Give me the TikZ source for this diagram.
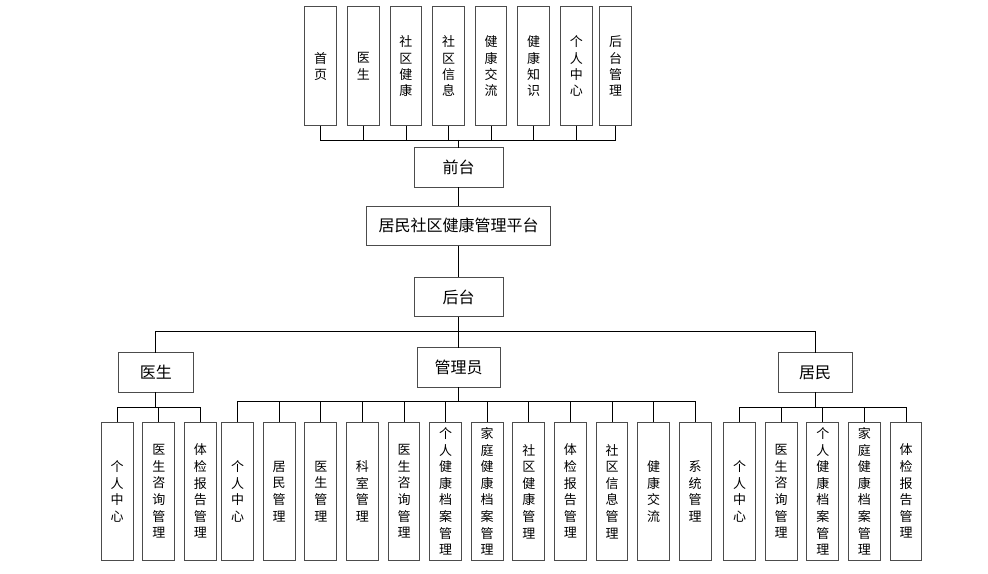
\documentclass[tikz,border=0pt]{standalone}
\usepackage{fontspec}
\setmainfont{Noto Sans CJK SC}
\usetikzlibrary{positioning,calc}

\begin{document}
\begin{tikzpicture}[
    node distance=11pt,
    tier/.style={rectangle, draw=black!70, fill=white, line width=0.9pt, inner sep=0pt, outer sep=0pt, minimum height=39.5pt, text centered, font=\fontsize{16}{19}\selectfont},
    menu/.style={rectangle, draw=black!70, fill=white, line width=0.9pt, inner sep=0pt, outer sep=0pt, minimum width=31.6pt, minimum height=118.7pt, align=center, font=\fontsize{13}{16.3}\selectfont},
    func/.style={menu, minimum width=31.8pt, minimum height=138.7pt, font=\fontsize{13}{16.6}\selectfont},
    link/.style={draw=black, line width=0.75pt}
]
    \useasboundingbox (0,0) rectangle (988pt,573pt);

    % main column
    \node[tier, minimum width=184.4pt] (platform) at (458.5pt,347.15pt) {居民社区健康管理平台};
    \node[tier, minimum width=89pt, above=18.7pt of platform] (front) {前台};
    \node[tier, minimum width=89pt, below=31.6pt of platform] (back) {后台};
    \node[tier, minimum width=83pt, below=31pt of back] (admin) {管理员};
    \node[tier, minimum width=74.3pt] (doctor) at (155.8pt,200.5pt) {医生};
    \node[tier, minimum width=74.3pt] (resident) at (815.1pt,200.5pt) {居民};

    % front pages
    \node[menu] (home) at (320.7pt,506.7pt) {首\\页};
    \node[menu, right=of home] (doc) {医\\生};
    \node[menu, right=of doc] (comm) {社\\区\\健\\康};
    \node[menu, right=of comm] (info) {社\\区\\信\\息};
    \node[menu, right=of info] (talk) {健\\康\\交\\流};
    \node[menu, right=of talk] (know) {健\\康\\知\\识};
    \node[menu, right=of know] (mine) {个\\人\\中\\心};
    \node[menu, right=7.7pt of mine] (manage) {后\\台\\管\\理};

    % doctor functions
    \node[func] (d1) at (117.2pt,81.65pt) {个\\人\\中\\心};
    \node[func, right=9.8pt of d1] (d2) {医\\生\\咨\\询\\管\\理};
    \node[func, right=9.8pt of d2] (d3) {体\\检\\报\\告\\管\\理};

    % admin functions
    \node[func, right=5.4pt of d3] (a1) {个\\人\\中\\心};
    \node[func, right=9.8pt of a1] (a2) {居\\民\\管\\理};
    \node[func, right=9.8pt of a2] (a3) {医\\生\\管\\理};
    \node[func, right=9.8pt of a3] (a4) {科\\室\\管\\理};
    \node[func, right=9.8pt of a4] (a5) {医\\生\\咨\\询\\管\\理};
    \node[func, right=9.8pt of a5] (a6) {个\\人\\健\\康\\档\\案\\管\\理};
    \node[func, right=9.8pt of a6] (a7) {家\\庭\\健\\康\\档\\案\\管\\理};
    \node[func, right=9.8pt of a7] (a8) {社\\区\\健\\康\\管\\理};
    \node[func, right=9.8pt of a8] (a9) {体\\检\\报\\告\\管\\理};
    \node[func, right=9.8pt of a9] (a10) {社\\区\\信\\息\\管\\理};
    \node[func, right=9.8pt of a10] (a11) {健\\康\\交\\流};
    \node[func, right=9.8pt of a11] (a12) {系\\统\\管\\理};

    % resident functions
    \node[func, right=12.6pt of a12] (r1) {个\\人\\中\\心};
    \node[func, right=9.8pt of r1] (r2) {医\\生\\咨\\询\\管\\理};
    \node[func, right=9.8pt of r2] (r3) {个\\人\\健\\康\\档\\案\\管\\理};
    \node[func, right=9.8pt of r3] (r4) {家\\庭\\健\\康\\档\\案\\管\\理};
    \node[func, right=9.8pt of r4] (r5) {体\\检\\报\\告\\管\\理};

    % bus points
    \coordinate[above=8pt of front] (topbus);
    \coordinate[below=14.6pt of back] (backbus);
    \coordinate[below=15pt of doctor] (docbus);
    \coordinate[below=14.4pt of admin] (adminbus);
    \coordinate[below=15pt of resident] (resbus);

    % front connectors
    \draw[link] (home.south) |- (topbus);
    \draw[link] (doc.south) |- (topbus);
    \draw[link] (comm.south) |- (topbus);
    \draw[link] (info.south) |- (topbus);
    \draw[link] (talk.south) |- (topbus);
    \draw[link] (know.south) |- (topbus);
    \draw[link] (mine.south) |- (topbus);
    \draw[link] (manage.south) |- (topbus);
    \draw[link] (topbus) -- (front.north);
    \draw[link] (front.south) -- (platform.north);
    \draw[link] (platform.south) -- (back.north);

    % back connectors
    \draw[link] (back.south) -- (backbus);
    \draw[link] (doctor.north) |- (backbus);
    \draw[link] (resident.north) |- (backbus);
    \draw[link] (backbus) -- (admin.north);

    \draw[link] (doctor.south) -- (docbus);
    \draw[link] (d1.north) |- (docbus);
    \draw[link] (d2.north) |- (docbus);
    \draw[link] (d3.north) |- (docbus);

    \draw[link] (admin.south) -- (adminbus);
    \draw[link] (a1.north) |- (adminbus);
    \draw[link] (a2.north) |- (adminbus);
    \draw[link] (a3.north) |- (adminbus);
    \draw[link] (a4.north) |- (adminbus);
    \draw[link] (a5.north) |- (adminbus);
    \draw[link] (a6.north) |- (adminbus);
    \draw[link] (a7.north) |- (adminbus);
    \draw[link] (a8.north) |- (adminbus);
    \draw[link] (a9.north) |- (adminbus);
    \draw[link] (a10.north) |- (adminbus);
    \draw[link] (a11.north) |- (adminbus);
    \draw[link] (a12.north) |- (adminbus);

    \draw[link] (resident.south) -- (resbus);
    \draw[link] (r1.north) |- (resbus);
    \draw[link] (r2.north) |- (resbus);
    \draw[link] (r3.north) |- (resbus);
    \draw[link] (r4.north) |- (resbus);
    \draw[link] (r5.north) |- (resbus);
\end{tikzpicture}
\end{document}
